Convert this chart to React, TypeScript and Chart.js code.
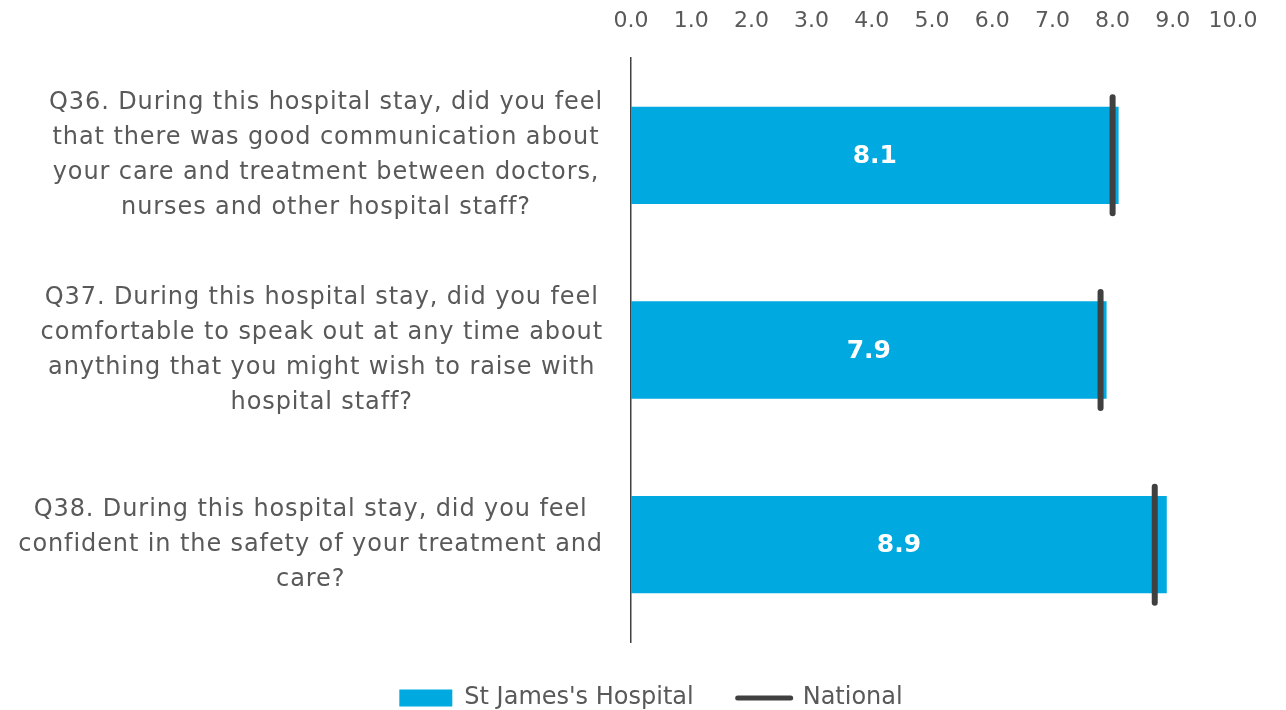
import React, { useEffect, useRef } from "react";
import { Chart, registerables } from "chart.js";

Chart.register(...registerables);

const categories: string[][] = [
  [
    "Q36. During this hospital stay, did you feel",
    "that there was good communication about",
    "your care and treatment between doctors,",
    "nurses and other hospital staff?",
  ],
  [
    "Q37. During this hospital stay, did you feel",
    "comfortable to speak out at any time about",
    "anything that you might wish to raise with",
    "hospital staff?",
  ],
  [
    "Q38. During this hospital stay, did you feel",
    "confident in the safety of your treatment and",
    "care?",
  ],
];
const hospitalScores = [8.1, 7.9, 8.9];
const nationalScores = [8.0, 7.8, 8.7];
const seriesNames = ["St James's Hospital", "National"];
const axisMin = 0;
const axisMax = 10;
const axisStep = 1;

const FONT = "'DejaVu Sans', sans-serif";
const LABEL_SPACING = "0.9px";
const BLUE = "#00A9E0";
const DARK = "#404040";
const GREY = "#595959";

const barLabelPlugin = {
  id: "barLabels",
  afterDatasetsDraw(chart: any) {
    const meta = chart.getDatasetMeta(0);
    const ctx = chart.ctx;
    ctx.save();
    ctx.fillStyle = "#ffffff";
    ctx.font = `bold 25px ${FONT}`;
    ctx.textAlign = "center";
    ctx.textBaseline = "middle";
    meta.data.forEach((el: any, i: number) => {
      const { x, y, base } = el.getProps(["x", "y", "base"], true);
      ctx.fillText(hospitalScores[i].toFixed(1), (x + base) / 2, y + 1);
    });
    ctx.restore();
  },
};

const roundCapPlugin = {
  id: "roundCap",
  beforeDatasetDraw(chart: any, args: any) {
    if (args.index === 1) chart.ctx.lineCap = "round";
  },
  afterDatasetDraw(chart: any, args: any) {
    if (args.index === 1) chart.ctx.lineCap = "butt";
  },
};

// y labels: letter-spaced, each label block right-aligned at the tick padding,
// with its lines centred inside the block
const labelBlockPlugin = {
  id: "labelBlocks",
  beforeDraw(chart: any) {
    const ys = chart.scales.y;
    if (!ys || ys.__blocks) return;
    const origCompute = ys._computeLabelItems;
    ys._computeLabelItems = function (area: any) {
      const items = origCompute.call(this, area);
      const c = this.ctx;
      c.save();
      c.letterSpacing = LABEL_SPACING;
      const rightEdge = this.right - this.options.ticks.padding;
      items.forEach((it: any) => {
        c.font = it.font.string;
        const lines = Array.isArray(it.label) ? it.label : [it.label];
        const w = Math.max(...lines.map((l: string) => c.measureText(l).width));
        it.options.translation[0] = rightEdge - w / 2;
        it.options.textAlign = "center";
      });
      c.restore();
      return items;
    };
    const origDraw = ys.drawLabels;
    ys.drawLabels = function (area: any) {
      const c = this.ctx;
      const prev = c.letterSpacing;
      c.letterSpacing = LABEL_SPACING;
      origDraw.call(this, area);
      c.letterSpacing = prev || "0px";
    };
    ys._labelItems = null;
    ys.__blocks = true;
  },
};

export default function App() {
  const ref = useRef<HTMLCanvasElement | null>(null);
  useEffect(() => {
    document.body.style.margin = "0";
    const canvas = ref.current;
    if (!canvas) return;
    const chart = new Chart(canvas, {
      type: "bar",
      data: {
        labels: categories as any,
        datasets: [
          {
            type: "bar",
            label: seriesNames[0],
            data: hospitalScores,
            backgroundColor: BLUE,
            borderWidth: 0,
            categoryPercentage: 0.5,
            barPercentage: 1,
            order: 1,
          } as any,
          {
            type: "line",
            label: seriesNames[1],
            data: nationalScores,
            indexAxis: "y",
            showLine: false,
            pointStyle: "line",
            rotation: 90,
            pointRadius: 58,
            pointHoverRadius: 58,
            borderColor: DARK,
            backgroundColor: DARK,
            pointBorderColor: DARK,
            pointBorderWidth: 6,
            borderWidth: 6,
            clip: false,
            order: 0,
          } as any,
        ],
      },
      options: {
        indexAxis: "y",
        responsive: false,
        animation: false,
        layout: { autoPadding: false, padding: { left: 16, right: 0, top: 0, bottom: -10 } },
        scales: {
          x: {
            position: "top",
            min: axisMin,
            max: axisMax,
            grid: { display: false, drawTicks: false },
            border: { display: false },
            ticks: {
              stepSize: axisStep,
              padding: 24,
              color: GREY,
              font: { family: FONT, size: 22, lineHeight: 1.2 },
              callback: (v: any) => Number(v).toFixed(1),
            },
            afterFit: (s: any) => {
              s.height = 58;
              s.paddingLeft = 0;
              s.paddingRight = 53;
            },
          },
          y: {
            grid: { display: false, drawTicks: false },
            border: { display: true, color: DARK, width: 1.5 },
            ticks: {
              crossAlign: "center",
              padding: 28,
              color: GREY,
              font: { family: FONT, size: 24, lineHeight: "35px" as any },
            },
            afterFit: (s: any) => {
              s.width = 615;
              s.paddingTop = 0;
              s.paddingBottom = 0;
            },
          },
        },
        plugins: {
          tooltip: { enabled: false },
          legend: {
            position: "bottom",
            labels: {
              usePointStyle: true,
              pointStyleWidth: 53,
              boxHeight: 17,
              padding: 44,
              color: GREY,
              font: { family: FONT, size: 24 },
              generateLabels: () => [
                {
                  text: seriesNames[0],
                  fillStyle: BLUE,
                  strokeStyle: BLUE,
                  lineWidth: 0,
                  pointStyle: "rect",
                  rotation: 0,
                  datasetIndex: 0,
                  hidden: false,
                  fontColor: GREY,
                } as any,
                {
                  text: seriesNames[1],
                  fillStyle: DARK,
                  strokeStyle: DARK,
                  lineWidth: 5,
                  lineCap: "round",
                  pointStyle: "line",
                  rotation: 0,
                  datasetIndex: 1,
                  hidden: false,
                  fontColor: GREY,
                } as any,
              ],
            },
          },
        },
      },
      plugins: [barLabelPlugin, roundCapPlugin, labelBlockPlugin],
    } as any);
    return () => chart.destroy();
  }, []);
  return (
    <div style={{ width: 1286, height: 710 }}>
      <canvas ref={ref} width={1286} height={710} style={{ display: "block" }} />
    </div>
  );
}
